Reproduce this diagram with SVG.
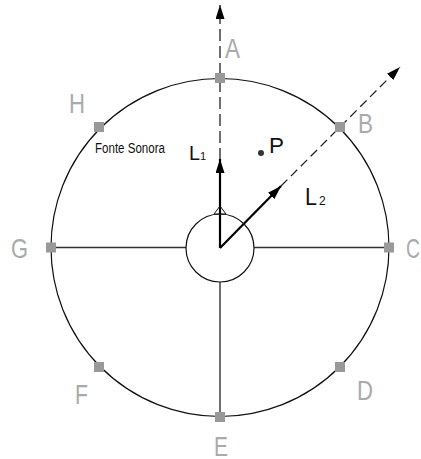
<svg xmlns="http://www.w3.org/2000/svg" width="421" height="459" viewBox="0 0 421 459">
<style>
.lbl{font-family:"Liberation Sans",Arial,sans-serif;font-size:28px;fill:#aaaaaa}
.blk{font-family:"Liberation Sans",Arial,sans-serif;fill:#111111}
.sq{fill:#999999}
.ring{fill:none;stroke:#111111;stroke-width:1.2}
.spoke{stroke:#333333;stroke-width:1.4;fill:none}
.dash{stroke:#222222;stroke-width:1.3;stroke-dasharray:12 5;fill:none}
.dash2{stroke:#222222;stroke-width:1.3;stroke-dasharray:9 5;fill:none}
.vec{stroke:#000000;stroke-width:2.2;fill:none}
</style>
<defs>
<marker id="ah" markerUnits="userSpaceOnUse" markerWidth="16" markerHeight="10" refX="14" refY="4.5" orient="auto">
<path d="M0,0 L14,4.5 L0,9 z" fill="#000"/>
</marker>
</defs>
<rect width="421" height="459" fill="#ffffff"/>
<g id="rings">
<circle class="ring" cx="220" cy="247.5" r="169"/>
</g>
<g id="connectors">
<line class="spoke" x1="51" y1="247.5" x2="186" y2="247.5"/>
<line class="spoke" x1="254" y1="247.5" x2="389" y2="247.5"/>
<line class="spoke" x1="220" y1="282" x2="220" y2="417"/>
<line class="dash" x1="220" y1="160" x2="220" y2="5" marker-end="url(#ah)"/>
<line class="dash2" x1="281" y1="186" x2="400" y2="67" marker-end="url(#ah)"/>
<line class="vec" x1="220" y1="248" x2="220" y2="159" marker-end="url(#ah)"/>
<line class="vec" x1="220" y1="248" x2="281" y2="186" marker-end="url(#ah)"/>
</g>
<g id="source">
<circle class="ring" cx="220" cy="248" r="34"/>
<polygon points="220,206 214,214 226,214" fill="none" stroke="#111" stroke-width="1"/>
</g>
<g id="A"><rect class="sq" x="215" y="73" width="10" height="10"/><text class="lbl" x="225" y="58" textLength="15" lengthAdjust="spacingAndGlyphs">A</text></g>
<g id="B"><rect class="sq" x="335" y="122" width="10" height="10"/><text class="lbl" x="358" y="133" textLength="15" lengthAdjust="spacingAndGlyphs">B</text></g>
<g id="C"><rect class="sq" x="384" y="242.5" width="10" height="10"/><text class="lbl" x="406" y="258" textLength="14" lengthAdjust="spacingAndGlyphs">C</text></g>
<g id="D"><rect class="sq" x="335" y="362" width="10" height="10"/><text class="lbl" x="357" y="400" textLength="16" lengthAdjust="spacingAndGlyphs">D</text></g>
<g id="E"><rect class="sq" x="215" y="412" width="10" height="10"/><text class="lbl" x="214" y="456" textLength="14" lengthAdjust="spacingAndGlyphs">E</text></g>
<g id="F"><rect class="sq" x="94" y="362" width="10" height="10"/><text class="lbl" x="75" y="404" textLength="13" lengthAdjust="spacingAndGlyphs">F</text></g>
<g id="G"><rect class="sq" x="46" y="242.5" width="10" height="10"/><text class="lbl" x="11" y="258" textLength="17" lengthAdjust="spacingAndGlyphs">G</text></g>
<g id="H"><rect class="sq" x="94" y="122" width="10" height="10"/><text class="lbl" x="69" y="113" textLength="16" lengthAdjust="spacingAndGlyphs">H</text><text class="blk" x="95" y="153" font-size="14" textLength="70" lengthAdjust="spacingAndGlyphs">Fonte Sonora</text></g>
<g id="P"><circle cx="261" cy="153" r="3" fill="#333"/><text class="blk" x="269" y="153" font-size="22" textLength="15" lengthAdjust="spacingAndGlyphs">P</text></g>
<g id="L1"><text class="blk" x="189" y="160" font-size="21"><tspan textLength="11" lengthAdjust="spacingAndGlyphs">L</tspan><tspan font-size="11">1</tspan></text></g>
<g id="L2"><text class="blk" x="305" y="205" font-size="23"><tspan textLength="12" lengthAdjust="spacingAndGlyphs">L</tspan><tspan font-size="12" dx="2">2</tspan></text></g>
</svg>
